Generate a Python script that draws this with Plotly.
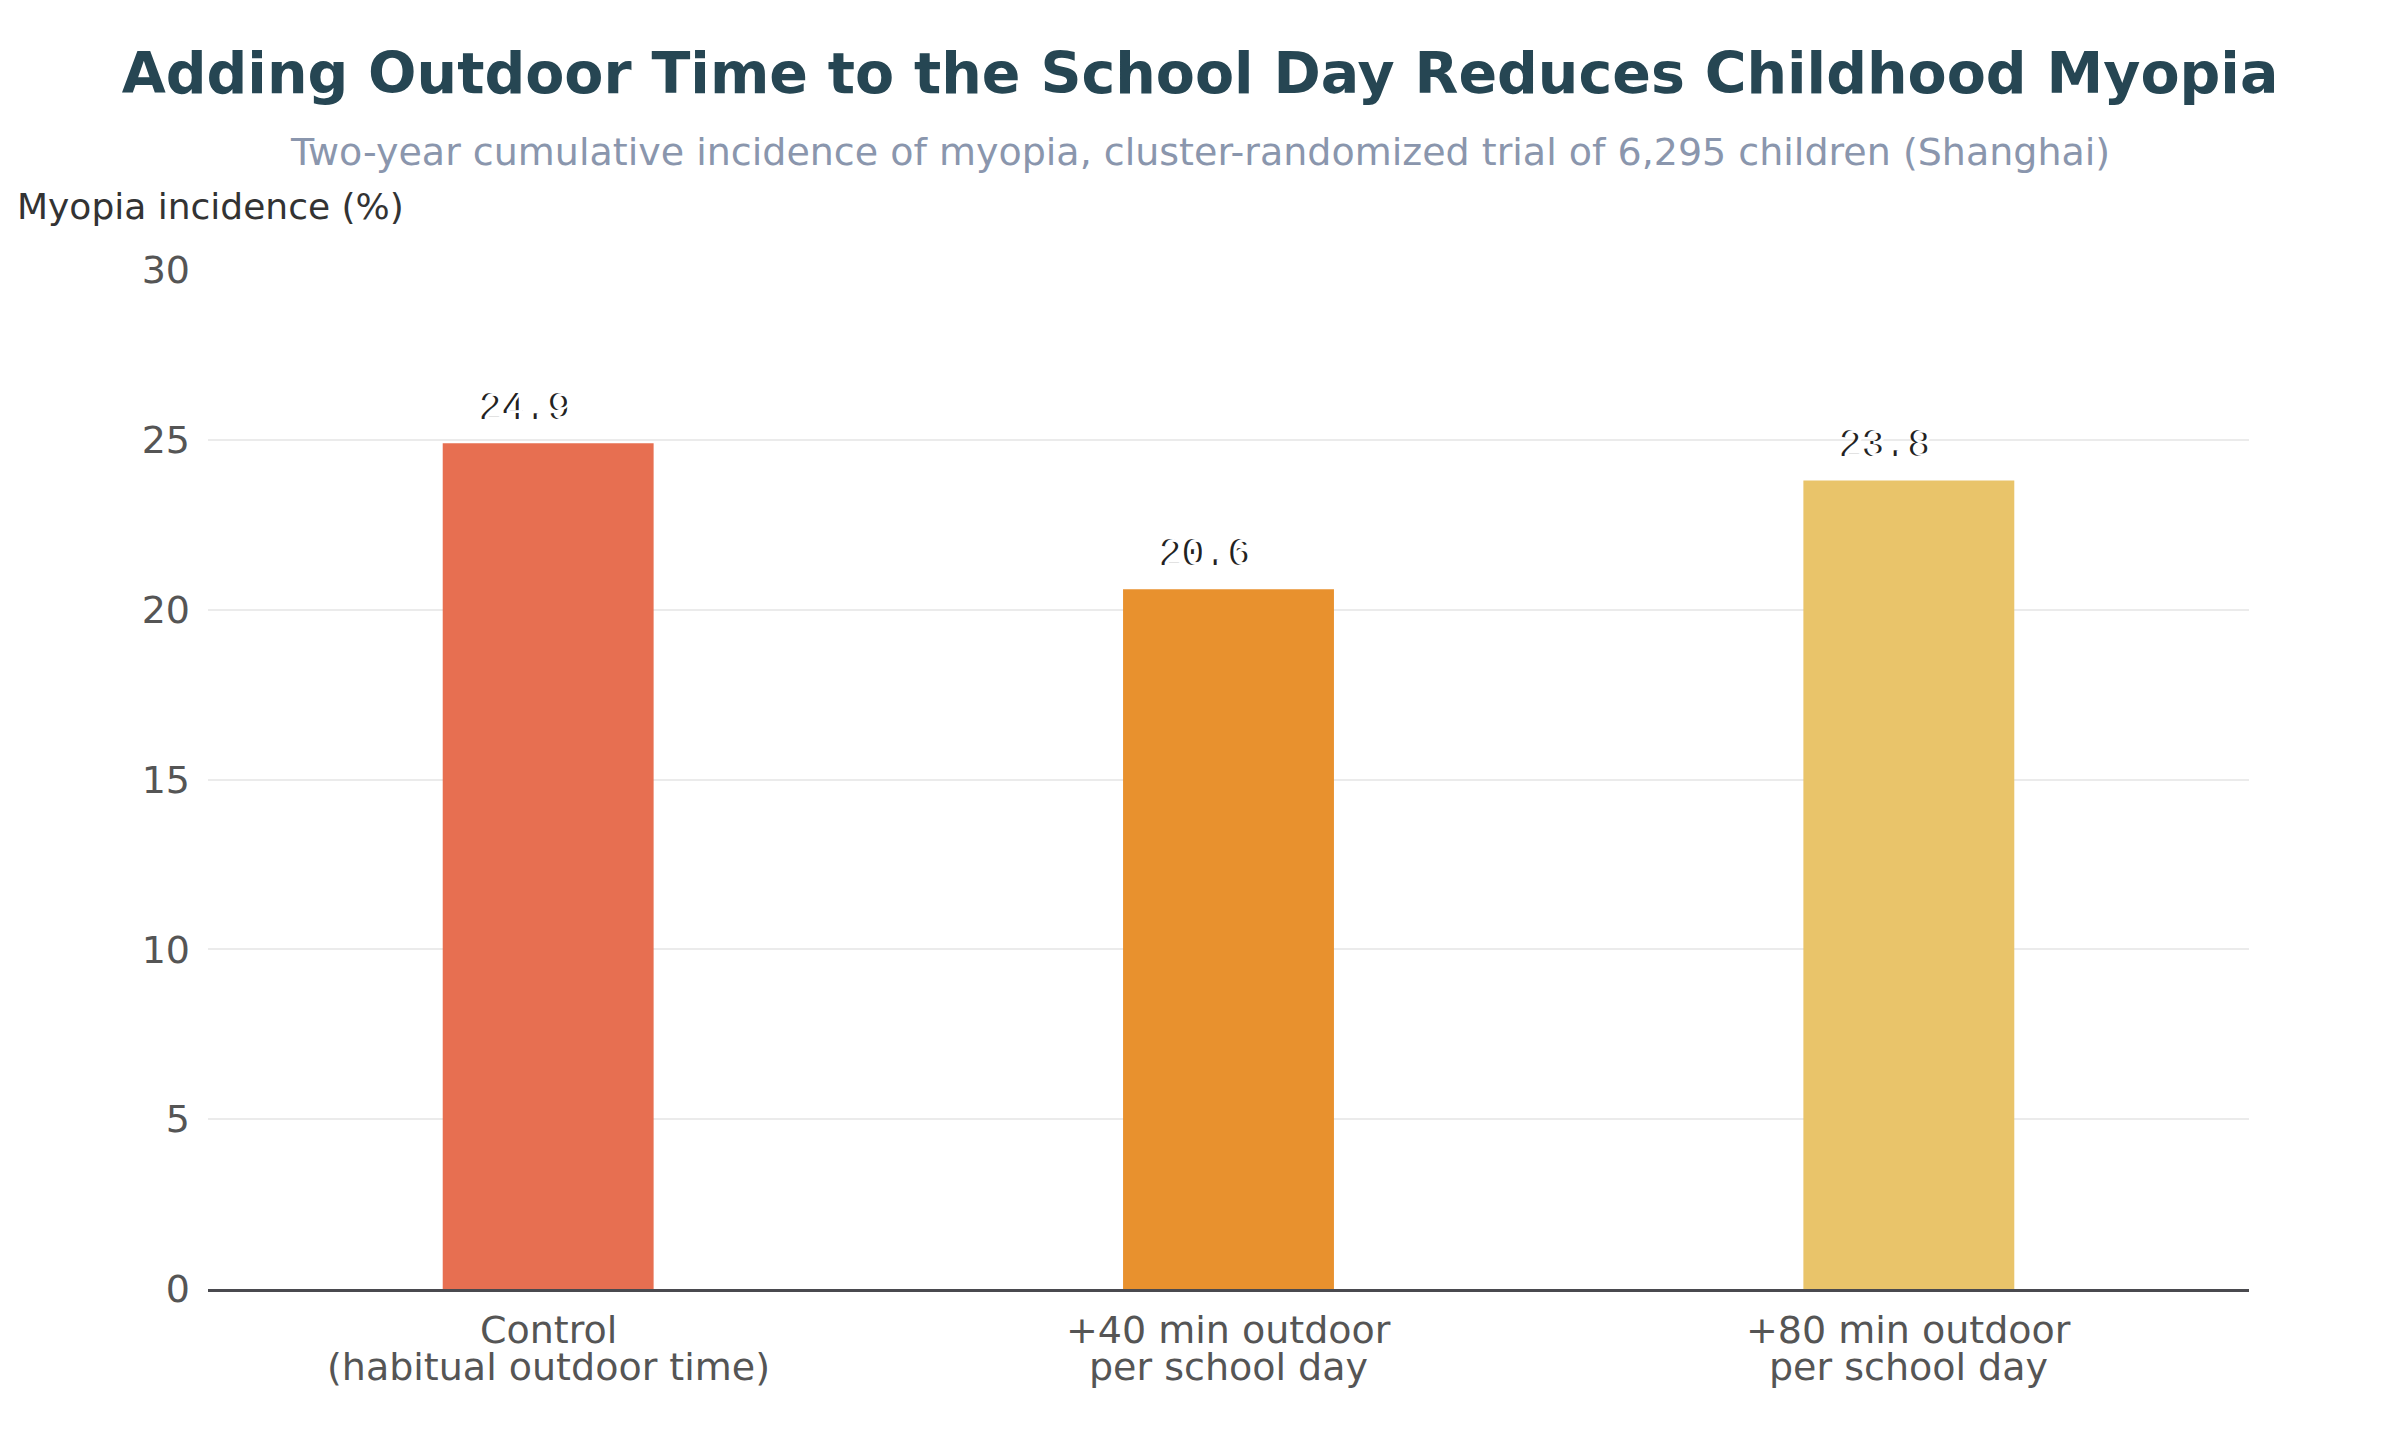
import plotly.graph_objects as go

# Data
group_line1 = ["Control", "+40 min outdoor", "+80 min outdoor"]
group_line2 = ["(habitual outdoor time)", "per school day", "per school day"]
groups = [a + "<br>" + b for a, b in zip(group_line1, group_line2)]
incidence = [24.9, 20.6, 23.8]
bar_colors = ["#E76F51", "#E8912E", "#E9C46A"]
y_ticks = [0, 5, 10, 15, 20, 25, 30]

fig = go.Figure()

fig.add_trace(go.Bar(
    x=groups,
    y=incidence,
    marker=dict(color=bar_colors, line=dict(width=0)),
    width=0.31,
    hovertemplate="%{x}: %{y:.1f}%<extra></extra>",
))

annotations = [
    dict(text="Two-year cumulative incidence of myopia, cluster-randomized trial of 6,295 children (Shanghai)",
         xref="paper", yref="paper", x=0.4861, y=1.116,
         xanchor="center", yanchor="middle", showarrow=False,
         font=dict(size=38, color="#8A96AD")),
    dict(text="Myopia incidence (%)",
         xref="paper", yref="paper", x=-0.0948, y=1.0628,
         xanchor="left", yanchor="middle", showarrow=False,
         font=dict(size=36, color="#333333")),
]

# value labels (white text, thin dark edge on one side)
for g, v in zip(groups, incidence):
    annotations.append(dict(
        text=f"{v:.1f}", x=g, y=v, xref="x", yref="y",
        xanchor="center", yanchor="middle", xshift=-21, yshift=35,
        showarrow=False,
        font=dict(family="Courier New, monospace", size=38, color="white",
                  shadow="-3px 0px 0px #222222"),
    ))

# category labels, two tight lines
for g, l1, l2 in zip(groups, group_line1, group_line2):
    annotations.append(dict(text=l1, x=g, y=0, xref="x", yref="y",
                            xanchor="center", yanchor="middle", yshift=-41,
                            showarrow=False,
                            font=dict(size=38, color="#555555")))
    annotations.append(dict(text=l2, x=g, y=0, xref="x", yref="y",
                            xanchor="center", yanchor="middle", yshift=-78,
                            showarrow=False,
                            font=dict(size=38, color="#555555")))

fig.update_layout(
    title=dict(
        text="<b>Adding Outdoor Time to the School Day Reduces Childhood Myopia</b>",
        x=0.5, xanchor="center",
        y=1 - 66 / 1440, yanchor="middle", yref="container",
        font=dict(family="DejaVu Sans", size=57, color="#264653"),
    ),
    font=dict(family="DejaVu Sans", size=36, color="#555555"),
    plot_bgcolor="white",
    paper_bgcolor="white",
    showlegend=False,
    margin=dict(l=200, r=143, t=262, b=143),
    annotations=annotations,
)

fig.update_xaxes(
    showgrid=False,
    showline=True, linecolor="#4A4A4F", linewidth=3,
    ticks="", showticklabels=False,
)
fig.update_yaxes(
    range=[0, 30],
    tickvals=y_ticks,
    showgrid=True, gridcolor="#EBEBEB", gridwidth=2,
    zeroline=False, showline=False,
    ticks="", ticklabelstandoff=17,
    tickfont=dict(size=38, color="#555555"),
)

fig.write_html("out.html")
